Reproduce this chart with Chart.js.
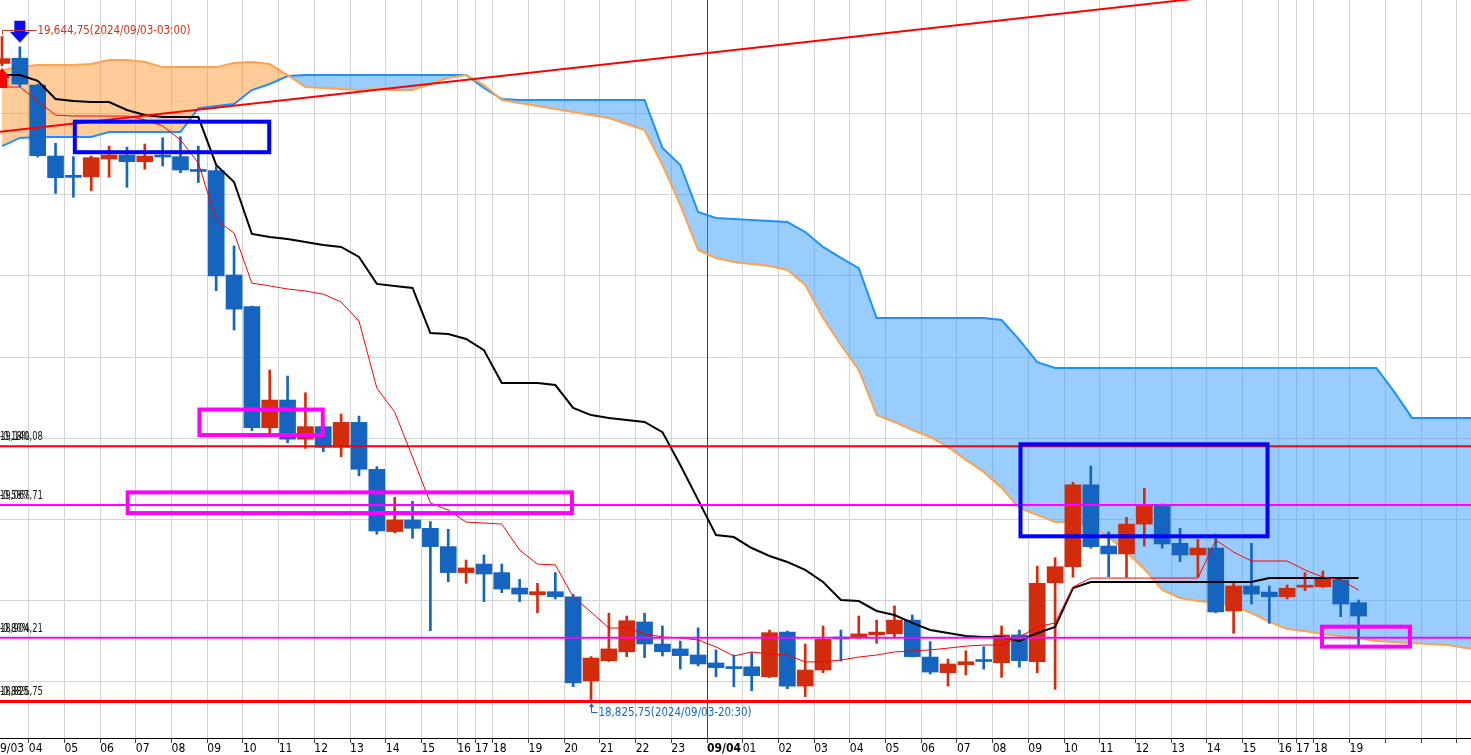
<!DOCTYPE html>
<html>
<head>
<meta charset="utf-8">
<script src="https://cdn.jsdelivr.net/npm/chart.js@4.4.1/dist/chart.umd.min.js"></script>
<style>
  html, body { margin: 0; padding: 0; background: #fff; }
  #wrap { width: 1471px; height: 755px; position: relative; }
</style>
</head>
<body>
<div id="wrap"><canvas id="ichimokuChart"></canvas></div>
<script>
// 30-minute candles, 2024/09/03 03:00 .. 2024/09/04 19:00 (index 0..76)
const opens = [19611.5, 19618, 19585, 19497.5, 19473, 19472, 19493.75, 19498.75, 19490.5, 19497.5,
  19496.75, 19480.25, 19479.5, 19351, 19312, 19163, 19197, 19148.75, 19164.25, 19138.75,
  19169.5, 19111.75, 19035, 19049.25, 19039, 19016.5, 18984.5, 18995, 18984.5, 18965.5,
  18957.25, 18961, 18954.75, 18851, 18876, 18887, 18923.75, 18896.5, 18890.5, 18883,
  18873.25, 18868.5, 18868.5, 18856.25, 18911.25, 18844.75, 18864.5, 18905.25, 18905.5, 18907.75,
  18909, 18926, 18880.5, 18861.25, 18871, 18876.25, 18873.5, 18907.75, 18874.75, 18972,
  18991.75, 19092.5, 19017.25, 19007.5, 19044.25, 19066.5, 19020.5, 19006.25, 19014.75, 18937.25,
  18968, 18960.5, 18954.75, 18966.5, 18967, 18975.5, 18947.5];
const highs = [19644.75, 19632, 19586, 19513.25, 19496.75, 19497.5, 19509.75, 19508.5, 19512.25, 19520,
  19521.25, 19509.75, 19484.5, 19386.75, 19312.75, 19234, 19226.5, 19206, 19165, 19179.75,
  19177.25, 19115, 19077.25, 19072.25, 19047.25, 19037.75, 19000, 19006.25, 18995, 18976.25,
  18971.25, 18984.5, 18957.75, 18881, 18934.5, 18931, 18934.5, 18918.75, 18900.25, 18916.5,
  18889.25, 18883, 18886, 18913.75, 18912.5, 18896.5, 18918.75, 18913.75, 18931, 18926,
  18943.5, 18932.25, 18899.5, 18878, 18888.25, 18893.25, 18918.75, 18913.75, 18992.5, 19002.75,
  19095.75, 19115.75, 19034.5, 19052.5, 19088.25, 19069, 19039, 19025.5, 19031.75, 18972,
  19020.5, 18968, 18969.25, 18984.5, 18986.5, 18978.75, 18950.75];
const lows = [19608.5, 19583, 19496.25, 19451.5, 19446.75, 19454.75, 19471.25, 19459, 19481.25, 19485.25,
  19477, 19464.75, 19331.75, 19283.25, 19159.25, 19156, 19144.5, 19137.5, 19133.5, 19127.25,
  19103.75, 19031.75, 19033.5, 19026.75, 18913, 18973.25, 18971.25, 18948.75, 18959.75, 18948.75,
  18935, 18952, 18844, 18825.75, 18875, 18881, 18879.75, 18881.75, 18865.75, 18869.5,
  18856.25, 18844, 18839, 18855.25, 18841.5, 18831.75, 18861.25, 18875.5, 18903.5, 18897.5,
  18905.5, 18880.5, 18859.5, 18844.75, 18858.5, 18865.5, 18855.5, 18868, 18861.25, 18840.75,
  18978.75, 19014.5, 18979.5, 18978.75, 19017.25, 19014.5, 18998, 18978.75, 18935, 18909.75,
  18945.75, 18922, 18952, 18962.25, 18966.25, 18930.25, 18895.25];
const closes = [19617.5, 19586, 19498, 19470.75, 19471.25, 19495.5, 19498.75, 19490.5, 19497.5, 19496.25,
  19480.25, 19478.5, 19350, 19309, 19163, 19197, 19148.75, 19164.25, 19138.75, 19169.5,
  19111.75, 19035.75, 19049.25, 19039, 19016.5, 18984.5, 18990.25, 18982.75, 18964.25, 18958,
  18961, 18954.75, 18848.5, 18879.25, 18890.5, 18925.25, 18896.5, 18887, 18882.25, 18872,
  18867.5, 18866.25, 18857.5, 18910.5, 18844.75, 18864.5, 18902.25, 18902.75, 18909, 18911.25,
  18926, 18881, 18862, 18872, 18874.75, 18875, 18907.75, 18876, 18971.25, 18991.75,
  19092.5, 19016.5, 19007.5, 19044.25, 19066.5, 19019.75, 19006.25, 19014.75, 18936, 18968,
  18958, 18954.75, 18965.25, 18967.5, 18976.25, 18945.75, 18931];

const tenkan = [19582.5, 19582.5, 19565.25, 19548, 19546.75, 19546.75, 19546.75, 19546.75, 19542, 19534.5,
  19517.25, 19489, 19418.75, 19402.75, 19341, 19337.5, 19333.75, 19331.25, 19327.5, 19317.75,
  19294.25, 19211.75, 19182.25, 19126.75, 19070.25, 19061.5, 19046.75, 19045.5, 19044.25, 19012.25,
  18995, 18994, 18954.5, 18936, 18916.25, 18916.25, 18909, 18905.25, 18904, 18901.5,
  18893, 18881.75, 18886.75, 18884.25, 18883, 18874.5, 18874.5, 18876.75, 18880.5, 18883,
  18886.75, 18888, 18889.25, 18891.5, 18894, 18895.25, 18895.25, 18905.25, 18917.5, 18922.5,
  18966.75, 18977.75, 18977.75, 18977.75, 18977.75, 18977.75, 18977.75, 18977.75, 19024.5, 19009.75,
  18998.75, 18998.75, 18998.75, 18987.75, 18979, 18975.5, 18963];
const kijun = [19597.25, 19597.25, 19590, 19567.75, 19565.25, 19564, 19564, 19554.25, 19548, 19545.5,
  19545.5, 19545.5, 19486.5, 19465.5, 19401.5, 19397.75, 19395.25, 19391.5, 19388, 19385.5,
  19373.25, 19340, 19337.5, 19335, 19279.5, 19278.25, 19272.25, 19258.5, 19218, 19218,
  19218, 19215.5, 19187.25, 19178.5, 19175, 19172.5, 19170, 19157.5, 19117, 19074,
  19030.75, 19028.25, 19014.75, 19005, 18997.5, 18987.75, 18973, 18950.75, 18949.5, 18937.25,
  18932.25, 18922.5, 18913.75, 18910, 18906.5, 18905.25, 18905.25, 18900.25, 18910, 18917.5,
  18965.5, 18973, 18973, 18973, 18973, 18973, 18973, 18973, 18973, 18973,
  18973, 18977.75, 18977.75, 18977.75, 18977.75, 18977.75, 18977.75];
// leading spans, already shifted forward (index 0..83)
const spanA = [19509.75, 19519.75, 19521, 19521, 19521, 19521, 19527, 19527, 19527, 19527,
  19527, 19556.5, 19559, 19561.5, 19578.75, 19586.25, 19596, 19597.25, 19597.25, 19597.25,
  19597.25, 19597.25, 19597.25, 19597.25, 19597.25, 19597.25, 19597.25, 19581.25, 19567.75, 19566.5,
  19566.5, 19566.5, 19566.5, 19566.5, 19566.5, 19566.5, 19566.5, 19507.5, 19486.5, 19428.5,
  19421.25, 19420, 19418.75, 19417.5, 19416.25, 19404, 19385.5, 19372, 19359.5, 19298,
  19298, 19298, 19298, 19298, 19298, 19298, 19295.5, 19271, 19243.75, 19236.5,
  19236.5, 19236.5, 19236.5, 19236.5, 19236.5, 19236.5, 19236.5, 19236.5, 19236.5, 19236.5,
  19236.5, 19236.5, 19236.5, 19236.5, 19236.5, 19236.5, 19236.5, 19236.5, 19207, 19175,
  19175, 19175, 19175, 19175];
const spanB = [19603.5, 19607, 19609.5, 19609.5, 19609.5, 19610.75, 19615.75, 19615.75, 19613.25, 19607,
  19607, 19607, 19607, 19612, 19613.25, 19610.75, 19597.25, 19582.5, 19581.25, 19580,
  19578.75, 19580, 19578.75, 19578.75, 19586.25, 19593.5, 19597.25, 19585, 19566.5, 19562.75,
  19559, 19555.5, 19551.75, 19548, 19544.25, 19537, 19529.5, 19486.5, 19437.25, 19381.75,
  19372, 19367, 19364.5, 19362, 19357.25, 19338.75, 19298, 19264.75, 19234, 19178.5,
  19170, 19160, 19151.5, 19139.25, 19123.25, 19108.5, 19088.75, 19064, 19055.5, 19046.75,
  19046.75, 19042, 19028.25, 19009.75, 18989, 18963, 18953.25, 18949.5, 18947, 18943.25,
  18934.75, 18923.75, 18915, 18912.5, 18909, 18906.5, 18904, 18900.25, 18899, 18897.75,
  18896.5, 18895.25, 18891.5, 18889.25];

const trendX = [-1, 83];
const trendY = [19525.25, 19730.75];

const tickPos = [-0.5, 1.5, 3.5, 5.5, 7.5, 9.5, 11.5, 13.5, 15.5, 17.5, 19.5, 21.5, 23.5, 25.5, 26.5, 27.5,
  29.5, 31.5, 33.5, 35.5, 37.5, 39.5, 41.5, 43.5, 45.5, 47.5, 49.5, 51.5, 53.5, 55.5, 57.5, 59.5,
  61.5, 63.5, 65.5, 67.5, 69.5, 71.5, 72.5, 73.5, 75.5, 77.5, 79.5, 81.5];
const tickLabels = ['09/03', '04', '05', '06', '07', '08', '09', '10', '11', '12', '13', '14', '15', '16', '17', '18',
  '19', '20', '21', '22', '23', '09/04', '01', '02', '03', '04', '05', '06', '07', '08', '09', '10',
  '11', '12', '13', '14', '15', '16', '17', '18', '19', '', '', ''];
const priceGrid = [18850, 18950, 19050, 19150, 19250, 19350, 19450, 19550];

const levelPrices = [19140.08, 19067.71, 18904.21, 18825.75];
const levelValueText = ['19,140,08', '19,067,71', '18,904,21', '18,825,75'];
const levelPctText = ['-0,18%', '-0,58%', '-0,80%', '-0,88%'];

// drawn boxes: [fromIndex, toIndex, topPrice, bottomPrice]
const boxes = [
  [4.08, 14.97, 19539.8, 19502.2],
  [57.06, 70.9, 19142.5, 19029.2],
  [11.06, 17.97, 19185.3, 19153.9],
  [7.04, 31.93, 19083.3, 19057.8],
  [73.95, 78.88, 18917.9, 18893.3]
];
const dayBreak = 39.5;
const highIdx = 0, lowIdx = 33;
const highText = '19,644,75(2024/09/03-03:00)';
const lowText = '18,825,75(2024/09/03-20:30)';

const FONT = '"Liberation Sans Narrow", "DejaVu Sans Condensed", "Liberation Sans", sans-serif';
const upColor = '#d22c0c';
const downColor = '#1565c0';
const boxColors = ['#0000ff', '#0000ff', '#ff00ff', '#ff00ff', '#ff00ff'];
const levelColors = ['#ff0000', '#ff00ff', '#ff00ff', '#ff0000'];
const levelWidths = [2, 2, 2, 3];

const candleColors = opens.map((o, i) => closes[i] >= o ? upColor : downColor);
const pts = arr => arr.map((v, i) => ({ x: i, y: v }));

// condensed text: the original uses a narrow bitmap font
function narrowText(ctx, text, x, y, sx) {
  ctx.save();
  ctx.translate(x, y);
  ctx.scale(sx, 1);
  ctx.fillText(text, 0, 0);
  ctx.restore();
}

const overlay = {
  id: 'overlay',
  beforeDatasetsDraw(chart) {
    const { ctx, chartArea, scales: { x } } = chart;
    const px = Math.round(x.getPixelForValue(dayBreak)) + 0.5;
    ctx.save();
    ctx.strokeStyle = '#e00000';
    ctx.lineWidth = 1;
    ctx.beginPath();
    ctx.moveTo(px, chartArea.top);
    ctx.lineTo(px, chartArea.bottom);
    ctx.stroke();
    ctx.restore();
  },
  afterDatasetsDraw(chart) {
    const { ctx, chartArea, scales: { x, y } } = chart;
    ctx.save();
    ctx.beginPath();
    ctx.rect(chartArea.left, chartArea.top, chartArea.width, chartArea.height);
    ctx.clip();

    // horizontal levels
    levelPrices.forEach((p, k) => {
      const py = y.getPixelForValue(p);
      ctx.strokeStyle = levelColors[k];
      ctx.lineWidth = levelWidths[k];
      ctx.beginPath();
      ctx.moveTo(chartArea.left, py);
      ctx.lineTo(chartArea.right, py);
      ctx.stroke();
      ctx.fillStyle = '#111';
      ctx.font = '13px ' + FONT;
      ctx.textBaseline = 'bottom';
      ctx.textAlign = 'left';
      narrowText(ctx, levelValueText[k], 0, py - 3, 0.72);
      narrowText(ctx, levelPctText[k], 0, py - 3, 0.72);
    });

    // boxes
    boxes.forEach((b, k) => {
      const x1 = x.getPixelForValue(b[0]), x2 = x.getPixelForValue(b[1]);
      const y1 = y.getPixelForValue(b[2]), y2 = y.getPixelForValue(b[3]);
      ctx.strokeStyle = boxColors[k];
      ctx.lineWidth = 4;
      ctx.strokeRect(x1, y1, x2 - x1, y2 - y1);
    });

    // signal arrows
    const bx = x.getPixelForValue(1);
    const btip = y.getPixelForValue(highs[1]) - 4;
    ctx.fillStyle = '#0a0aff';
    ctx.beginPath();
    ctx.moveTo(bx, btip);
    ctx.lineTo(bx - 10, btip - 11);
    ctx.lineTo(bx - 5.5, btip - 11);
    ctx.lineTo(bx - 5.5, btip - 22);
    ctx.lineTo(bx + 5.5, btip - 22);
    ctx.lineTo(bx + 5.5, btip - 11);
    ctx.lineTo(bx + 10, btip - 11);
    ctx.closePath();
    ctx.fill();

    const rx = x.getPixelForValue(0);
    const rtip = y.getPixelForValue(lows[0]) + 2;
    ctx.fillStyle = '#ff0000';
    ctx.beginPath();
    ctx.moveTo(rx, rtip);
    ctx.lineTo(rx + 8, rtip + 10);
    ctx.lineTo(rx + 5, rtip + 10);
    ctx.lineTo(rx + 5, rtip + 20);
    ctx.lineTo(rx - 5, rtip + 20);
    ctx.lineTo(rx - 5, rtip + 10);
    ctx.lineTo(rx - 8, rtip + 10);
    ctx.closePath();
    ctx.fill();
    ctx.restore();

    // high / low markers
    ctx.save();
    ctx.font = '13px ' + FONT;
    ctx.textBaseline = 'middle';
    ctx.textAlign = 'left';
    const hx = Math.round(x.getPixelForValue(highIdx)) + 0.5;
    const hy = y.getPixelForValue(highs[highIdx]);
    ctx.strokeStyle = '#cc3311';
    ctx.fillStyle = '#cc3311';
    ctx.lineWidth = 1;
    ctx.beginPath();
    ctx.moveTo(hx, hy - 2);
    ctx.lineTo(hx, Math.round(hy - 6) + 0.5);
    ctx.lineTo(hx + 34, Math.round(hy - 6) + 0.5);
    ctx.stroke();
    narrowText(ctx, highText, hx + 35, hy - 6, 0.88);

    const lx = Math.round(x.getPixelForValue(lowIdx)) + 0.5;
    const ly = y.getPixelForValue(lows[lowIdx]);
    const lline = Math.round(ly + 11) + 0.5;
    ctx.strokeStyle = '#1166cc';
    ctx.fillStyle = '#1166cc';
    ctx.beginPath();
    ctx.moveTo(lx, ly + 2);
    ctx.lineTo(lx, lline);
    ctx.lineTo(lx + 6, lline);
    ctx.stroke();
    ctx.beginPath();
    ctx.moveTo(lx, ly + 1.5);
    ctx.lineTo(lx - 2.5, ly + 5.5);
    ctx.lineTo(lx + 2.5, ly + 5.5);
    ctx.closePath();
    ctx.fill();
    narrowText(ctx, lowText, lx + 7, lline, 0.88);
    ctx.restore();
  }
};

const canvas = document.getElementById('ichimokuChart');
new Chart(canvas.getContext('2d'), {
  type: 'bar',
  data: {
    datasets: [
      {
        type: 'line', label: 'Senkou A', data: pts(spanA),
        borderColor: '#1e8fff', borderWidth: 2, pointRadius: 0, tension: 0,
        fill: { target: 1, above: 'rgba(51,153,255,0.5)', below: 'rgba(255,153,51,0.5)' },
        order: 6
      },
      {
        type: 'line', label: 'Senkou B', data: pts(spanB),
        borderColor: '#ffa24e', borderWidth: 2, pointRadius: 0, tension: 0, fill: false,
        order: 5
      },
      {
        label: 'wick', data: lows.map((l, i) => ({ x: i, y: [l, highs[i]] })),
        backgroundColor: candleColors, barThickness: 2, grouped: false, order: 4
      },
      {
        label: 'body', data: opens.map((o, i) => ({ x: i, y: [o, closes[i]] })),
        backgroundColor: candleColors, barThickness: 16, minBarLength: 2, grouped: false, order: 3
      },
      {
        type: 'line', label: 'Kijun', data: pts(kijun),
        borderColor: '#000000', borderWidth: 2, pointRadius: 0, tension: 0, fill: false, order: 2
      },
      {
        type: 'line', label: 'Tenkan', data: pts(tenkan),
        borderColor: '#ff0000', borderWidth: 1, pointRadius: 0, tension: 0, fill: false, order: 1
      },
      {
        type: 'line', label: 'Trend', data: trendX.map((v, k) => ({ x: v, y: trendY[k] })),
        borderColor: '#ff0000', borderWidth: 2, pointRadius: 0, tension: 0, fill: false, order: 0
      }
    ]
  },
  options: {
    responsive: true,
    maintainAspectRatio: false,
    animation: false,
    devicePixelRatio: 1,
    layout: { padding: 0 },
    plugins: {
      legend: { display: false },
      tooltip: { enabled: false },
      filler: { propagate: false }
    },
    scales: {
      x: {
        type: 'linear',
        min: -0.112,
        max: 82.3,
        offset: false,
        afterBuildTicks: scale => { scale.ticks = tickPos.map(v => ({ value: v })); },
        afterFit: scale => { scale.paddingLeft = 0; scale.paddingRight = 0; },
        grid: { color: '#d4d4d4', tickColor: '#444', tickLength: 5, offset: false },
        border: { display: true, color: '#000', width: 1 },
        ticks: {
          autoSkip: false,
          maxRotation: 0,
          minRotation: 0,
          align: 'start',
          padding: 0,
          color: '#000',
          font: ctx => ({ family: FONT, size: 12, lineHeight: 1,
            weight: tickLabels[ctx.index] === '09/04' ? 'bold' : 'normal' }),
          callback: (v, i) => tickLabels[i]
        }
      },
      y: {
        type: 'linear',
        position: 'left',
        min: 18780.8,
        max: 19689.65,
        afterBuildTicks: scale => { scale.ticks = priceGrid.map(v => ({ value: v })); },
        afterFit: scale => { scale.width = 0; scale.paddingTop = 0; scale.paddingBottom = 0; },
        grid: { color: '#d4d4d4', drawTicks: false },
        border: { display: false },
        ticks: { display: false }
      }
    }
  },
  plugins: [overlay]
});
</script>
</body>
</html>
